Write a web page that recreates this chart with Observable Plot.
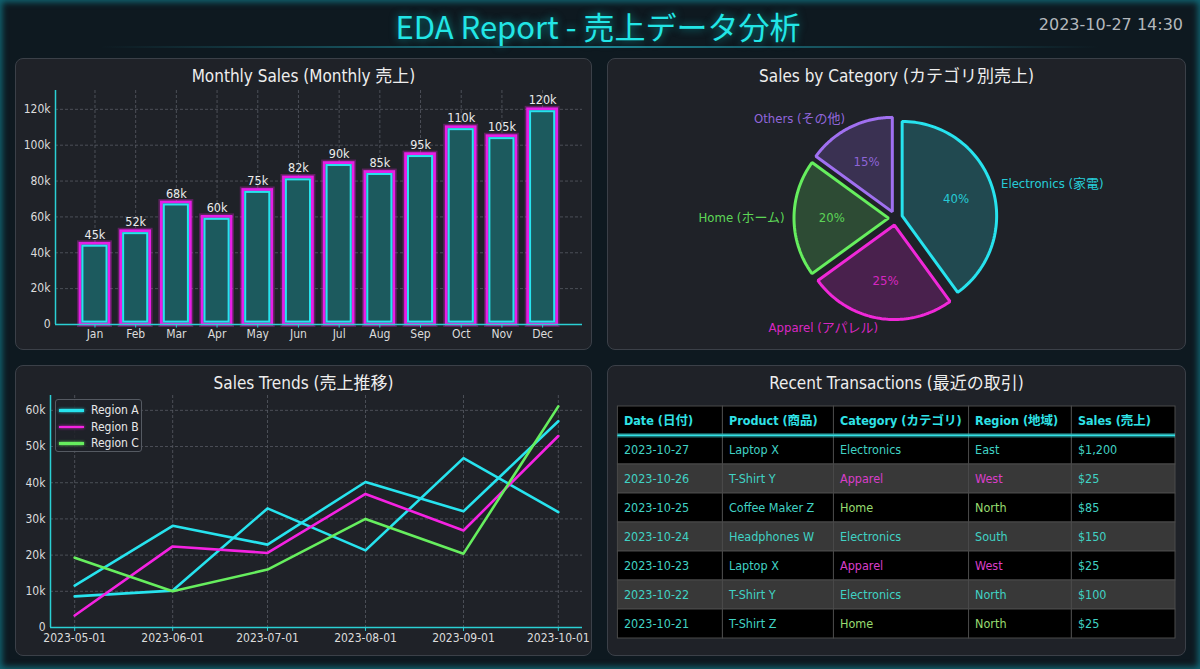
<!DOCTYPE html>
<html><head><meta charset="utf-8">
<script src="https://cdn.jsdelivr.net/npm/d3@7"></script>
<script src="https://cdn.jsdelivr.net/npm/@observablehq/plot@0.6"></script>
<style>
html,body{margin:0;padding:0;background:#0e1920;}
#page{position:relative;width:1200px;height:669px;overflow:hidden;background:#0e1920;font-family:"DejaVu Sans Condensed","DejaVu Sans","Noto Sans CJK JP",sans-serif;}
#page::after{content:"";position:absolute;left:0;top:0;right:0;bottom:0;box-shadow:inset 0 0 6px 2px rgba(20,170,190,0.55);pointer-events:none;}
.title{position:absolute;left:0;width:1196px;top:4px;text-align:center;font-family:"Noto Sans CJK JP","Noto Sans",sans-serif;font-size:31px;color:#22e6e6;text-shadow:0 0 8px rgba(0,230,230,0.55);line-height:44px;}
.stamp{position:absolute;right:17px;top:15px;font-family:"DejaVu Sans","Noto Sans CJK JP",sans-serif;font-size:16px;color:#b4b8bc;}
.hline{position:absolute;left:100px;width:1000px;top:46px;height:2px;background:linear-gradient(90deg,rgba(40,200,220,0),rgba(40,200,220,0.6),rgba(40,200,220,0));}
.panel{position:absolute;background:#1f2228;border:1px solid #3b4048;border-radius:8px;box-sizing:border-box;}
.ptitle{position:absolute;left:0;right:0;top:6px;text-align:center;color:#eeeeee;font-size:17px;line-height:22px;}
.chart{position:absolute;}
.legend{position:absolute;left:55px;top:399px;width:87px;height:53px;box-sizing:border-box;background:rgba(30,33,40,0.85);border:1px solid #555a62;border-radius:3px;}
.legend .row{position:absolute;left:3px;height:16px;line-height:16px;font-size:12px;color:#e8e8e8;}
.legend .sw{position:absolute;left:0;top:7px;width:25px;height:2.5px;}
.legend .lb{position:absolute;left:32px;top:0;white-space:nowrap;}
g[aria-label="glow"]{filter:blur(2.5px);}
</style></head>
<body><div id="page">
<div class="title">EDA Report - 売上データ分析</div>
<div class="stamp">2023-10-27 14:30</div>
<div class="hline"></div>
<div class="panel" style="left:15px;top:58px;width:577px;height:292px"><div class="ptitle">Monthly Sales (Monthly 売上)</div></div>
<div class="panel" style="left:607px;top:58px;width:579px;height:292px"><div class="ptitle">Sales by Category (カテゴリ別売上)</div></div>
<div class="panel" style="left:15px;top:365px;width:577px;height:291px"><div class="ptitle">Sales Trends (売上推移)</div></div>
<div class="panel" style="left:607px;top:365px;width:579px;height:291px"><div class="ptitle">Recent Transactions (最近の取引)</div></div>
<div id="bar" class="chart" style="left:15px;top:85px"></div>
<div id="pie" class="chart" style="left:607px;top:88px"></div>
<div id="trend" class="chart" style="left:15px;top:390px"></div>
<div id="table" class="chart" style="left:607px;top:395px"></div>
<div id="legend" class="legend"></div>
</div>
<script>
// ---------------- data ----------------
const months = ["Jan","Feb","Mar","Apr","May","Jun","Jul","Aug","Sep","Oct","Nov","Dec"];
const monthlySales = [45000,52000,68000,60000,75000,82000,90000,85000,95000,110000,105000,120000];
const barTicks = [0,20000,40000,60000,80000,100000,120000];

const pieCategories = ["Electronics (家電)","Apparel (アパレル)","Home (ホーム)","Others (その他)"];
const pieShares = [40,25,20,15];

const trendDates = ["2023-05-01","2023-06-01","2023-07-01","2023-08-01","2023-09-01","2023-10-01"];
const regionA = [11600,28100,22900,40200,32100,57000];
const regionA2 = [8600,10200,32900,21300,46800,31900];
const regionB = [3300,22400,20600,36900,26800,52900];
const regionC = [19300,10000,16000,30000,20400,61100];
const trendTicks = [0,10000,20000,30000,40000,50000,60000];

const tableHeader = ["Date (日付)","Product (商品)","Category (カテゴリ)","Region (地域)","Sales (売上)"];
const txDates = ["2023-10-27","2023-10-26","2023-10-25","2023-10-24","2023-10-23","2023-10-22","2023-10-21"];
const txProducts = ["Laptop X","T-Shirt Y","Coffee Maker Z","Headphones W","Laptop X","T-Shirt Y","T-Shirt Z"];
const txCategories = ["Electronics","Apparel","Home","Electronics","Apparel","Electronics","Home"];
const txRegions = ["East","West","North","South","West","North","North"];
const txSales = [1200,25,85,150,25,100,25];

// ---------------- styles ----------------
const FONT = '"DejaVu Sans Condensed","DejaVu Sans","Noto Sans CJK JP",sans-serif';
const CYAN = "#27e3ee", MAGENTA = "#ee22e0", GREEN = "#66ee5e", PURPLE = "#a070f0";
const AXIS = "#2ad0d4", GRID = "#575b63", TICKTXT = "#dcdcdc";
const kfmt = v => v === 0 ? "0" : (v / 1000) + "k";
const svgStyle = {background: "transparent", fontFamily: FONT, overflow: "visible"};

// ---------------- bar chart ----------------
{
  const data = months.map((m, i) => ({m, i, v: monthlySales[i]}));
  const half = 0.355, x0 = -0.97, x1 = 11.98;
  const rectOpts = {x1: d => d.i - half, x2: d => d.i + half, y1: 0, y2: "v"};
  const chart = Plot.plot({
    width: 577, height: 265, marginLeft: 40, marginRight: 10, marginTop: 5, marginBottom: 26,
    x: {domain: [x0, x1], axis: null},
    y: {domain: [0, 130500], axis: null},
    style: svgStyle,
    marks: [
      Plot.ruleY(barTicks.slice(1), {stroke: GRID, strokeWidth: 0.8, strokeDasharray: "3,2"}),
      Plot.ruleX(data, {x: "i", stroke: GRID, strokeWidth: 0.8, strokeDasharray: "3,2"}),
      Plot.rect(data, {...rectOpts, fill: "none", stroke: MAGENTA, strokeWidth: 6, strokeOpacity: 0.3, ariaLabel: "glow"}),
      Plot.rect(data, {...rectOpts, fill: "#1c5a5e", stroke: "#e61ee6", strokeWidth: 2.8}),
      Plot.rect(data, {...rectOpts, inset: 2.4, fill: "none", stroke: CYAN, strokeWidth: 2}),
      Plot.ruleX(data, {x: "i", y1: 0, y2: -2000, stroke: AXIS, strokeWidth: 1}),
      Plot.ruleY([0], {stroke: AXIS, strokeWidth: 1.5}),
      Plot.ruleX([x0], {stroke: AXIS, strokeWidth: 1.5}),
      Plot.text(data, {x: "i", y: "v", text: d => kfmt(d.v), dy: -9, fill: "#ececec", fontSize: 12.5}),
      Plot.text(data, {x: "i", text: "m", frameAnchor: "bottom", dy: 13, fill: TICKTXT, fontSize: 12}),
      Plot.text(barTicks, {y: d => d, text: kfmt, frameAnchor: "left", textAnchor: "end", dx: -5, fill: TICKTXT, fontSize: 12})
    ]
  });
  document.getElementById("bar").append(chart);
}

// ---------------- pie chart ----------------
{
  const W = 579, H = 262, cx = 288, cy = 129.6, k = 94.5;
  const colors = [CYAN, "#f028d8", GREEN, PURPLE];
  const fills = ["#2ad8e0", "#e020d0", "#60e060", "#9a6ae8"];
  const explode = 0.074, labelDist = 1.1, pctDist = 0.6;
  let cum = 0;
  const marks = [];
  pieShares.forEach((s, i) => {
    const a0 = 90 - cum / 100 * 360; cum += s;
    const a1 = 90 - cum / 100 * 360;
    const mid = (a0 + a1) / 2 * Math.PI / 180;
    const ox = explode * Math.cos(mid), oy = explode * Math.sin(mid);
    const pts = [{x: ox, y: oy}];
    const n = 72;
    for (let j = 0; j <= n; j++) {
      const a = (a0 + (a1 - a0) * j / n) * Math.PI / 180;
      pts.push({x: ox + Math.cos(a), y: oy + Math.sin(a)});
    }
    marks.push(Plot.line(pts, {x: "x", y: "y", curve: "linear-closed", stroke: colors[i], strokeWidth: 7, strokeOpacity: 0.4, fill: "none", ariaLabel: "glow"}));
    marks.push(Plot.line(pts, {x: "x", y: "y", curve: "linear-closed", stroke: colors[i], strokeWidth: 3, fill: fills[i], fillOpacity: 0.22, strokeLinejoin: "miter"}));
    const lab = [{x: (explode + labelDist) * Math.cos(mid), y: (explode + labelDist) * Math.sin(mid), t: pieCategories[i]}];
    marks.push(Plot.text(lab, {x: "x", y: "y", text: "t", textAnchor: Math.cos(mid) > 0 ? "start" : "end", fill: colors[i], fillOpacity: 0.9, fontSize: 13}));
    const pct = [{x: (explode + pctDist) * Math.cos(mid), y: (explode + pctDist) * Math.sin(mid), t: s + "%"}];
    marks.push(Plot.text(pct, {x: "x", y: "y", text: "t", fill: colors[i], fillOpacity: 0.85, fontSize: 13}));
  });
  const chart = Plot.plot({
    width: W, height: H, margin: 0,
    x: {domain: [-cx / k, (W - cx) / k], axis: null},
    y: {domain: [-(H - cy) / k, cy / k], axis: null},
    style: svgStyle,
    marks
  });
  document.getElementById("pie").append(chart);
}

// ---------------- trend chart ----------------
{
  const dates = trendDates.map(d => new Date(d + "T00:00:00"));
  const day = 864e5, pad = 7.65 * day;
  const xmin = new Date(+dates[0] - pad), xmax = new Date(+dates[dates.length - 1] + pad);
  const series = [
    {name: "Region A", values: regionA2, color: CYAN},
    {name: "Region A", values: regionA, color: CYAN},
    {name: "Region B", values: regionB, color: "#f522e2"},
    {name: "Region C", values: regionC, color: GREEN}
  ];
  const marks = [
    Plot.ruleY(trendTicks.slice(1), {stroke: GRID, strokeWidth: 0.8, strokeDasharray: "3,2"}),
    Plot.ruleX(dates, {stroke: GRID, strokeWidth: 0.8, strokeDasharray: "3,2"})
  ];
  series.forEach(s => {
    const pts = dates.map((d, i) => ({d, v: s.values[i]}));
    marks.push(Plot.line(pts, {x: "d", y: "v", stroke: s.color, strokeWidth: 7, strokeOpacity: 0.4, ariaLabel: "glow"}));
  });
  series.forEach(s => {
    const pts = dates.map((d, i) => ({d, v: s.values[i]}));
    marks.push(Plot.line(pts, {x: "d", y: "v", stroke: s.color, strokeWidth: 2.6}));
  });
  marks.push(
    Plot.ruleX(dates, {y1: 0, y2: -1100, stroke: AXIS, strokeWidth: 1}),
    Plot.ruleY([0], {stroke: AXIS, strokeWidth: 1.5}),
    Plot.ruleX([xmin], {stroke: AXIS, strokeWidth: 1.5}),
    Plot.text(dates, {x: d => d, text: (d, i) => trendDates[i], frameAnchor: "bottom", dy: 14, fill: TICKTXT, fontSize: 12}),
    Plot.text(trendTicks, {y: d => d, text: kfmt, frameAnchor: "left", textAnchor: "end", dx: -5, fill: TICKTXT, fontSize: 12})
  );
  const chart = Plot.plot({
    width: 577, height: 263, marginLeft: 35, marginRight: 10, marginTop: 5, marginBottom: 26,
    x: {type: "time", domain: [xmin, xmax], axis: null},
    y: {domain: [0, 64100], axis: null},
    style: svgStyle,
    marks
  });
  document.getElementById("trend").append(chart);
  const lg = document.getElementById("legend");
  [["Region A", CYAN], ["Region B", "#f522e2"], ["Region C", GREEN]].forEach(([n, c], i) => {
    const r = document.createElement("div");
    r.className = "row"; r.style.top = (2 + i * 16.5) + "px";
    r.innerHTML = `<div class="sw" style="background:${c};box-shadow:0 0 3px ${c}"></div><div class="lb">${n}</div>`;
    lg.append(r);
  });
}

// ---------------- table ----------------
{
  const colWidths = [105, 111, 135.1, 102.8, 103.6];
  const edges = [0]; colWidths.forEach(w => edges.push(edges[edges.length - 1] + w));
  const total = edges[edges.length - 1];
  const TEAL = "#40d2c4", HEAD = "#2fe2e6";
  const catColor = {Electronics: TEAL, Apparel: "#d93ec9", Home: "#98dc70"};
  const rowKeys = ["h"].concat(txDates.map((d, i) => "r" + i));
  const money = v => "$" + d3.format(",")(v);
  const cells = [];
  tableHeader.forEach((t, c) => cells.push({row: "h", c, x1: edges[c], x2: edges[c + 1], t, color: HEAD, bold: true, bg: "#000"}));
  txDates.forEach((d, i) => {
    const vals = [d, txProducts[i], txCategories[i], txRegions[i], money(txSales[i])];
    const cols = [TEAL, TEAL, catColor[txCategories[i]], catColor[txCategories[i]], TEAL];
    vals.forEach((t, c) => cells.push({row: "r" + i, c, x1: edges[c], x2: edges[c + 1], t, color: cols[c], bold: false, bg: i % 2 ? "#383838" : "#000"}));
  });
  const H = 255, mt = 8, mb = 9;
  const rowH = (H - mt - mb) / rowKeys.length;
  const chart = Plot.plot({
    width: 579, height: H, marginLeft: 10.4, marginRight: 11, marginTop: mt, marginBottom: mb,
    x: {domain: [0, total], axis: null},
    y: {type: "band", domain: rowKeys, padding: 0, axis: null},
    color: {type: "identity"},
    style: svgStyle,
    marks: [
      Plot.barX(cells, {x1: "x1", x2: "x2", y: "row", fill: "bg", stroke: "#4a4a4a", strokeWidth: 1}),
      Plot.barX([{a: 0, b: total, r: "h"}], {x1: "a", x2: "b", y: "r", fill: HEAD, fillOpacity: 0.5, insetTop: rowH - 2.5, insetBottom: -2.5, ariaLabel: "glow"}),
      Plot.barX([{a: 0, b: total, r: "h"}], {x1: "a", x2: "b", y: "r", fill: HEAD, insetTop: rowH - 1, insetBottom: -1}),
      Plot.text(cells.filter(d => d.bold), {x: "x1", y: "row", text: "t", dx: 6, textAnchor: "start", fill: "color", fontSize: 12.5, fontWeight: "bold"}),
      Plot.text(cells.filter(d => !d.bold), {x: "x1", y: "row", text: "t", dx: 6, textAnchor: "start", fill: "color", fontSize: 12.5})
    ]
  });
  document.getElementById("table").append(chart);
}
</script>
</body></html>
